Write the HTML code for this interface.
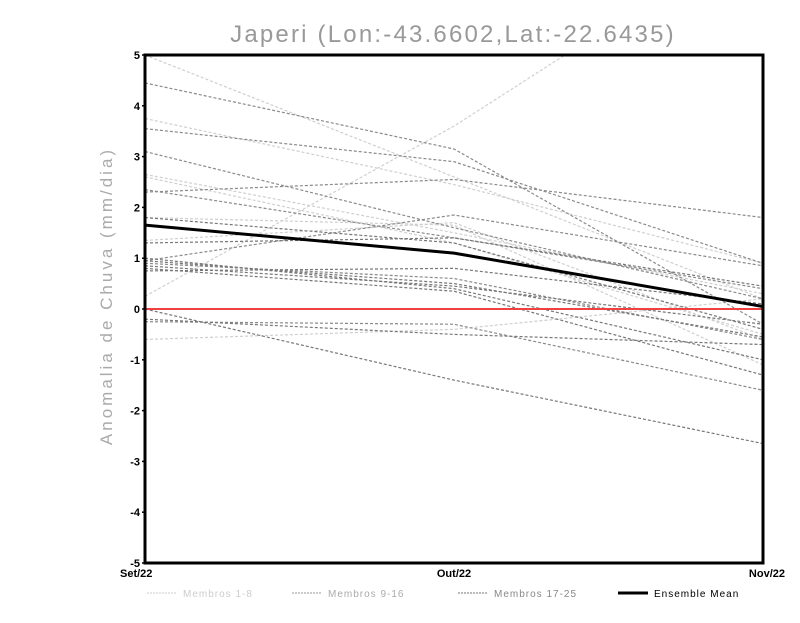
<!DOCTYPE html>
<html><head><meta charset="utf-8"><style>
body{margin:0;background:#fff;width:800px;height:618px;overflow:hidden;font-family:"Liberation Sans",sans-serif}
</style></head><body>
<svg width="800" height="618" xmlns="http://www.w3.org/2000/svg">
<text x="453" y="42" text-anchor="middle" font-size="24" letter-spacing="2.2" fill="#999">Japeri (Lon:-43.6602,Lat:-22.6435)</text>
<text transform="translate(112,296) rotate(-90)" text-anchor="middle" font-size="17" letter-spacing="3" fill="#aaa">Anomalia de Chuva (mm/dia)</text>
<defs><clipPath id="pc"><rect x="145" y="55" width="618" height="508"/></clipPath></defs>
<g id="series" clip-path="url(#pc)"></g>
<g id="axes"></g>
<g id="legend"></g>
</svg>
<script>
const categories=["Set/22","Out/22","Nov/22"];
const yTicks=[-5,-4,-3,-2,-1,0,1,2,3,4,5];
const group1=[[0.25,3.6,7.5],[5.0,2.6,0.2],[3.75,2.45,0.9],[2.65,1.5,0.3],[2.6,1.3,-0.5],[1.35,1.7,-0.6],[1.8,1.65,-1.1],[-0.6,-0.4,0.2]];
const group2=[[4.45,3.15,-0.3],[3.55,2.9,0.9],[2.3,2.55,1.8],[3.1,1.6,0.2],[0.95,1.85,0.85],[2.35,1.4,0.4],[0.9,0.6,-0.6],[-0.25,-0.3,-1.6]];
const group3=[[0.0,-1.4,-2.65],[1.3,1.4,0.45],[0.75,0.8,0.1],[0.85,0.45,-0.3],[0.8,0.35,-1.3],[0.95,0.5,-0.55],[-0.2,-0.5,-0.7],[1.8,1.3,-0.4],[1.0,0.4,-1.0]];
const ensembleMean=[1.65,1.1,0.05];
const legendLabels=["Membros 1-8","Membros 9-16","Membros 17-25","Ensemble Mean"];
const NS="http://www.w3.org/2000/svg";
const X0=145,X1=763,Y0=55,Y1=563;
function xs(i){return X0+i*(X1-X0)/(categories.length-1);}
function ys(v){return Y1-(v+5)*(Y1-Y0)/10;}
function mk(t,a,p){const e=document.createElementNS(NS,t);for(const k in a)e.setAttribute(k,a[k]);p.appendChild(e);return e;}
const S=document.getElementById('series'),A=document.getElementById('axes'),L=document.getElementById('legend');
function pts(d){return d.map((v,i)=>xs(i)+','+ys(v)).join(' ');}
const groups=[[group1,'#cfcfcf'],[group2,'#8a8a8a'],[group3,'#777']];
groups.forEach(([g,c],gi)=>{g.forEach((d,j)=>{
 const p=mk('polyline',{points:pts(d),fill:'none',stroke:c,'stroke-width':1.2,'stroke-dasharray':'3,2'},S);
 
 
});});
const zl=mk('line',{x1:X0,x2:X1,y1:ys(0),y2:ys(0),stroke:'#f04040','stroke-width':2},S);


const m=mk('polyline',{points:pts(ensembleMean),fill:'none',stroke:'#000','stroke-width':3},S);


const fr=mk('rect',{x:X0,y:Y0,width:X1-X0,height:Y1-Y0,fill:'none',stroke:'#000','stroke-width':3},A);


yTicks.forEach(v=>{
 const t=mk('text',{x:X0-5,y:ys(v)+4,'text-anchor':'end','font-size':11,'font-weight':'bold',fill:'#000'},A);
 t.textContent=v;
 
 
 mk('line',{x1:X0-3,x2:X0,y1:ys(v),y2:ys(v),stroke:'#000','stroke-width':1.5},A);
});
categories.forEach((c,i)=>{
 const anc=i==0?'start':(i==categories.length-1?'end':'middle');
 const t=mk('text',{x:xs(i)+(i==0?-25:(i==2?22:0)),y:577,'text-anchor':anc,'font-size':11,'font-weight':'bold',fill:'#000'},A);
 t.textContent=c;
 
 
});
const lc=['#ccc','#999','#777','#000'],lx=[147,292,458,618],tc=['#ccc','#aaa','#888','#000'];
legendLabels.forEach((l,i)=>{
 mk('line',{x1:lx[i],x2:lx[i]+30,y1:593,y2:593,stroke:lc[i],'stroke-width':i==3?3:1,'stroke-dasharray':i==3?'':'2,1'},L);
 const t=mk('text',{x:lx[i]+36,y:597,'font-size':10,'letter-spacing':'1',fill:tc[i]},L);
 t.textContent=l;
 
 
});
</script>
</body></html>
